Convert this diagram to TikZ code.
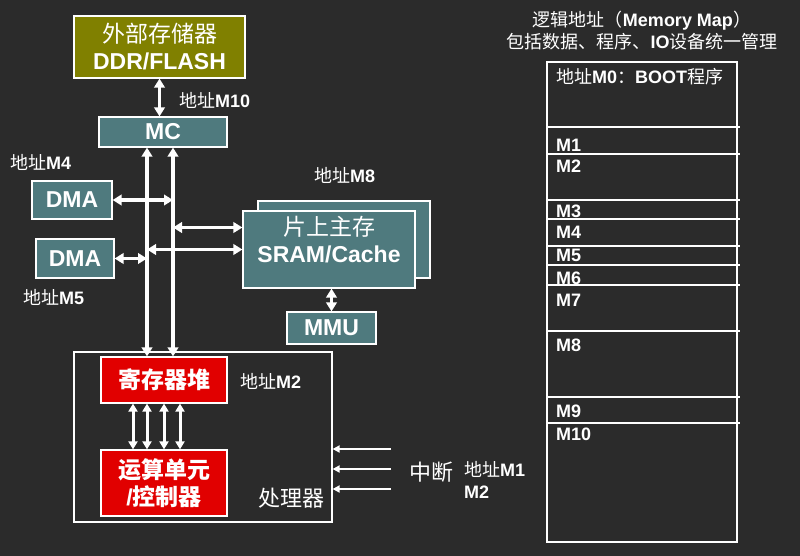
\documentclass[tikz,border=0pt]{standalone}
\usepackage{fontspec}
\setmainfont{Liberation Sans}
\newfontfamily\cjk{Noto Sans CJK SC}
\usetikzlibrary{shapes,arrows.meta,positioning}
\definecolor{bgcol}{RGB}{43,43,43}
\definecolor{olivebox}{RGB}{128,128,0}
\definecolor{tealbox}{RGB}{79,122,126}
\definecolor{redbox}{RGB}{225,0,0}
\newcommand{\zh}[1]{{\cjk\mdseries #1}}
\newcommand{\zhb}[1]{{\cjk\bfseries #1}}
\tikzstyle{box} = [rectangle, draw=white, line width=1.2pt, text=white, inner sep=0pt, align=center, font=\fontsize{23}{27}\selectfont\bfseries]
\tikzstyle{tbox} = [box, fill=tealbox]
\tikzstyle{obox} = [box, fill=olivebox]
\tikzstyle{rbox} = [box, fill=redbox]
\tikzstyle{frame} = [rectangle, draw=white, line width=1.2pt, inner sep=0pt]
\tikzstyle{lbl} = [text=white, inner sep=0pt, font=\fontsize{18}{22}\selectfont\bfseries]
\tikzstyle{big} = [text=white, inner sep=0pt, font=\fontsize{22}{26}\selectfont]
\tikzstyle{dbl} = [draw=white, line width=3.6pt, {Triangle[width=10.5pt,length=9pt]}-{Triangle[width=10.5pt,length=9pt]}]
\tikzstyle{dblthin} = [draw=white, line width=3pt, {Triangle[width=9pt,length=8pt]}-{Triangle[width=9pt,length=8pt]}]
\tikzstyle{irqline} = [draw=white, line width=1.8pt, -{Triangle[width=7pt,length=7pt]}]
\tikzstyle{line} = [draw=white, line width=1.2pt]

\begin{document}
\begin{tikzpicture}[x=1pt, y=-1pt]
			\fill [bgcol] (0,0) rectangle (800,556);
			\useasboundingbox (0,0) rectangle (800,556);

			% left side: processor and its buses
			\node [obox, minimum width=171, minimum height=62] (ext) at (159.5,47) {\zh{外部存储器}\\DDR/FLASH};
			\node [tbox, minimum width=128, minimum height=30] (mc) at (163,132) {MC};
			\node [tbox, minimum width=80, minimum height=38] (dmaA) at (72,200) {DMA};
			\node [tbox, minimum width=78, minimum height=39] (dmaB) at (75,258.5) {DMA};
			\node [tbox, minimum width=172, minimum height=77] (srambk) at (344,239.5) {};
			\node [tbox, minimum width=172, minimum height=77] (sram) at (329,249.5) {\zh{片上主存}\\SRAM/Cache\\[-6pt]};
			\node [tbox, minimum width=89, minimum height=32] (mmu) at (331.5,328) {MMU};
			\node [frame, minimum width=258, minimum height=170] (cpu) at (203,437) {};
			\node [rbox, minimum width=126, minimum height=46] (regs) at (164,380) {\zhb{寄存器堆}};
			\node [rbox, minimum width=126, minimum height=66] (alu) at (164,483) {\zhb{运算单元}\\/\zhb{控制器}};

			\node [lbl, anchor=west] (a10) at (179,100) {\zh{地址}M10};
			\node [lbl, anchor=west] (a4) at (10,162) {\zh{地址}M4};
			\node [lbl, anchor=west] (a5) at (23,297) {\zh{地址}M5};
			\node [lbl, anchor=west] (a8) at (314,175) {\zh{地址}M8};
			\node [lbl, anchor=west] (a2) at (240,381) {\zh{地址}M2};
			\node [big] (cpulbl) at (291,498) {\zh{处理器}};
			\node [big] (irq) at (431,472) {\zh{中断}};
			\node [lbl, anchor=west, align=left] (a1) at (464,480) {\zh{地址}M1\\M2};

			\coordinate (busL) at (147,0);
			\coordinate (busR) at (173,0);
			\coordinate (irqsrc) at (391,469);

			\path [dbl] (ext) -- (ext |- mc.north);
			\path [dbl] (mc.south -| busL) -- (regs.north -| busL);
			\path [dbl] (mc.south -| busR) -- (regs.north -| busR);
			\path [dbl] (dmaA.east) -- (dmaA.east -| busR);
			\path [dbl] (dmaB.east) -- (dmaB.east -| busL);
			\path [dbl] ([yshift=22pt]sram.west -| busR) -- ([yshift=22pt]sram.west);
			\path [dbl] (sram.west -| busL) -- (sram.west);
			\path [dbl] (sram.south -| mmu.north) -- (mmu.north);
			\foreach \dx in {-31,-17,0,16}
				\path [dblthin] ([xshift=\dx pt]regs.south) -- ([xshift=\dx pt]alu.north);
			\foreach \dy in {20,0,-20}
				\path [irqline] ([yshift=\dy pt]irqsrc) -- ([yshift=\dy pt]irqsrc -| cpu.east);

			% right side: memory map
			\node [lbl, align=center] (title) at (642,31) {\zh{逻辑地址（}Memory Map\zh{）}\\\zh{包括数据、程序、}IO\zh{设备统一管理}};
			\node [frame, minimum width=190, minimum height=480] (mem) at (642,302) {};
			\foreach \y in {127,154,200,219,246,265,285,331,397,423}
				\path [line] (548,\y) -- (740,\y);
			\node [lbl, anchor=west] (m0) at (556,77) {\zh{地址}M0\zh{：}BOOT\zh{程序}};
			\foreach \name/\y in {M1/145,M2/166,M3/211,M4/232,M5/255,M6/278,M7/300,M8/345,M9/411,M10/434}
				\node [lbl, anchor=west] (row\name) at (556,\y) {\name};
		\end{tikzpicture}
\end{document}
